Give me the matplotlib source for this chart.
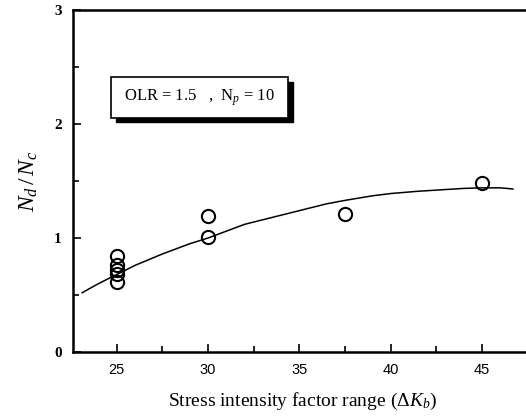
import matplotlib.pyplot as plt
from matplotlib.patches import Rectangle
from matplotlib.ticker import MultipleLocator

plt.rcParams.update({'font.family': 'Liberation Serif', 'mathtext.fontset': 'custom',
                     'mathtext.rm': 'Liberation Serif', 'mathtext.it': 'Liberation Serif:italic'})

# measured points
dk_25 = [25, 25, 25, 25, 25]
ratio_25 = [0.84, 0.76, 0.72, 0.68, 0.61]
dk_rest = [30, 30, 37.5, 45]
ratio_rest = [1.19, 1.01, 1.21, 1.48]

# fitted trend curve
fit_dk = [23.1, 24.0, 25.0, 26.0, 27.5, 29.0, 30.0, 31.0, 32.0, 33.5, 35.0, 36.5,
          37.5, 39.0, 40.0, 41.5, 42.5, 44.0, 45.0, 46.0, 46.7]
fit_ratio = [0.52, 0.60, 0.68, 0.76, 0.86, 0.95, 1.00, 1.06, 1.12, 1.18, 1.24, 1.30,
             1.33, 1.37, 1.39, 1.41, 1.42, 1.435, 1.44, 1.44, 1.43]

fig = plt.figure(figsize=(5.26, 4.18), dpi=100)
ax = fig.add_axes([73 / 526, 66 / 418, 460 / 526, 342 / 418])

ax.plot(fit_dk, fit_ratio, color='k', lw=1.1)
ax.plot(dk_25 + dk_rest, ratio_25 + ratio_rest, 'o', mfc='none', mec='k', ms=9.5, mew=1.5)

ax.set_xlim(22.6, 47.8)
ax.set_ylim(0, 3)
ax.xaxis.set_major_locator(MultipleLocator(5))
ax.xaxis.set_minor_locator(MultipleLocator(2.5))
ax.yaxis.set_major_locator(MultipleLocator(1))
ax.yaxis.set_minor_locator(MultipleLocator(0.5))
ax.tick_params(which='both', direction='in', top=False, right=False, width=1.2)
ax.tick_params(which='major', length=6)
ax.tick_params(which='minor', length=4)
for lab in ax.get_xticklabels():
    lab.set_fontfamily('Liberation Sans')
    lab.set_fontsize(10.5)
for lab in ax.get_yticklabels():
    lab.set_fontsize(11)
    lab.set_fontweight('bold')
ax.tick_params(axis='x', pad=8)
ax.tick_params(axis='y', pad=8)

for side in ['left', 'bottom', 'top']:
    ax.spines[side].set_linewidth(1.8)
ax.spines['right'].set_visible(False)

ax.set_xlabel(r'Stress intensity factor range ($\mathit{\Delta K_b}$)', fontsize=14, labelpad=10)
ax.set_ylabel(r'$N_d\,/\,N_c$', fontsize=17, labelpad=10)

# label box with drop shadow
ax.add_patch(Rectangle((0.094, 0.672), 0.385, 0.118, transform=ax.transAxes,
                       facecolor='k', edgecolor='k', zorder=3))
ax.add_patch(Rectangle((0.083, 0.685), 0.385, 0.118, transform=ax.transAxes,
                       facecolor='white', edgecolor='k', lw=1.2, zorder=4))
ax.text(0.275, 0.744, r'OLR = 1.5   ,  N$_p$ = 10', transform=ax.transAxes,
        ha='center', va='center', fontsize=12, zorder=5)

fig.savefig('out.png', dpi=100)
